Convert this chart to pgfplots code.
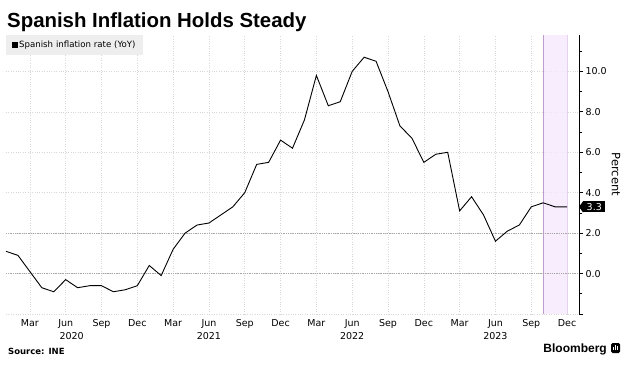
\documentclass[border=0pt]{standalone}
\usepackage{pgfplots}
\pgfplotsset{compat=1.18}
\usepackage{fontspec}
\setmainfont{DejaVu Sans}
\newfontfamily\titlefont{Liberation Sans}
\definecolor{shade}{HTML}{F6E8FB}
\definecolor{shadeedge}{HTML}{BE9CCD}
\definecolor{shadeedge2}{HTML}{E6D2EF}
\definecolor{lightgrid}{HTML}{D8D8D8}
\definecolor{darkgrid}{HTML}{A8A8A8}
\definecolor{legbg}{HTML}{EEEEEE}
\begin{document}
\begin{tikzpicture}[x=1bp,y=1bp]
\useasboundingbox (0,0) rectangle (635,365);
\begin{axis}[
  at={(6bp,51bp)}, anchor=south west, scale only axis,
  width=573bp, height=279bp,
  xmin=0, xmax=48, ymin=-2, ymax=11.8,
  axis y line*=right, axis x line*=bottom,
  x axis line style={draw=none},
  y axis line style={black, line width=0.9bp},
  xtick={2,5,...,47},
  xticklabels={Mar,Jun,Sep,Dec,Mar,Jun,Sep,Dec,Mar,Jun,Sep,Dec,Mar,Jun,Sep,Dec},
  x tick style={draw=none},
  extra x ticks={5.5,17,29,41},
  extra x tick labels={2020,2021,2022,2023},
  extra x tick style={xmajorgrids=false, xticklabel style={yshift=-13bp}},
  ytick={-2,0,2,4,6,8,10},
  yticklabels={,0.0,2.0,4.0,6.0,8.0,10.0},
  minor ytick={-1,1,3,5,7,9,11},
  tick align=outside,
  y tick style={black, line width=0.8bp},
  major tick length=4bp, minor tick length=3bp,
  xmajorgrids, ymajorgrids,
  major grid style={lightgrid, dotted, line width=0.6bp},
  tick label style={font=\fontsize{9.5bp}{11bp}\selectfont},
  xticklabel style={anchor=base, yshift=-8bp},
  yticklabel style={anchor=west, xshift=-1bp},
  clip=false,
]
\addplot[draw=none, fill=shade, fill opacity=0.8] coordinates {(45,-2) (47,-2) (47,11.8) (45,11.8)} -- cycle;
\addplot[shadeedge, line width=0.8bp] coordinates {(45,-2) (45,11.8)};
\addplot[shadeedge2, line width=0.6bp] coordinates {(47,-2) (47,11.8)};
\addplot[darkgrid, densely dotted, line width=0.8bp] coordinates {(0,0) (48,0)};
\addplot[darkgrid, densely dotted, line width=0.8bp] coordinates {(0,2) (48,2)};
\addplot[black, line width=0.9bp] coordinates {
(0,1.1) (1,0.9) (2,0.1) (3,-0.7) (4,-0.9) (5,-0.3) (6,-0.7) (7,-0.6) (8,-0.6) (9,-0.9) (10,-0.8) (11,-0.6)
(12,0.4) (13,-0.1) (14,1.2) (15,2.0) (16,2.4) (17,2.5) (18,2.9) (19,3.3) (20,4.0) (21,5.4) (22,5.5) (23,6.6)
(24,6.2) (25,7.6) (26,9.8) (27,8.3) (28,8.5) (29,10.0) (30,10.7) (31,10.5) (32,9.0) (33,7.3) (34,6.7) (35,5.5)
(36,5.9) (37,6.0) (38,3.1) (39,3.8) (40,2.9) (41,1.6) (42,2.1) (43,2.4) (44,3.3) (45,3.5) (46,3.3) (47,3.3)};
\node[fill=black, text=white, inner xsep=3.5bp, inner ysep=2bp, anchor=west, xshift=4bp,
  font=\fontsize{9.5bp}{11bp}\selectfont] (lbl) at (axis cs:48,3.3) {3.3};
\node[fill=legbg, anchor=north west, minimum width=137bp, minimum height=20bp, inner xsep=6bp,
  text width=125bp, font=\fontsize{8.6bp}{10bp}\selectfont] at (rel axis cs:0,1)
  {\rule{6bp}{6bp}\hspace{1bp}Spanish inflation rate (YoY)};
\node[rotate=-90, font=\fontsize{11.5bp}{13bp}\selectfont] at ([xshift=37bp]rel axis cs:1,0.5) {Percent};
\end{axis}
\fill[black] ([xshift=0.2bp]lbl.north west) -- ([xshift=-4bp]lbl.west) -- ([xshift=0.2bp]lbl.south west) -- cycle;
\node[anchor=base west, inner sep=0, font=\titlefont\bfseries\fontsize{20.4bp}{24bp}\selectfont] at (7,338) {Spanish Inflation Holds Steady};
\node[anchor=base west, inner sep=0, font=\bfseries\fontsize{8.5bp}{10bp}\selectfont] at (8,11) {Source: INE};
\node[anchor=base east, inner sep=0, font=\titlefont\bfseries\fontsize{12bp}{14bp}\selectfont] at (607,13) {Bloomberg};
\fill[black, rounded corners=1.5bp] (611,12) rectangle (620,22);
\fill[white] (613.2,15) rectangle (614.2,18.5);
\fill[white] (615.2,15) rectangle (616.2,20);
\fill[white] (617.2,15) rectangle (618.2,19);
\end{tikzpicture}
\end{document}
